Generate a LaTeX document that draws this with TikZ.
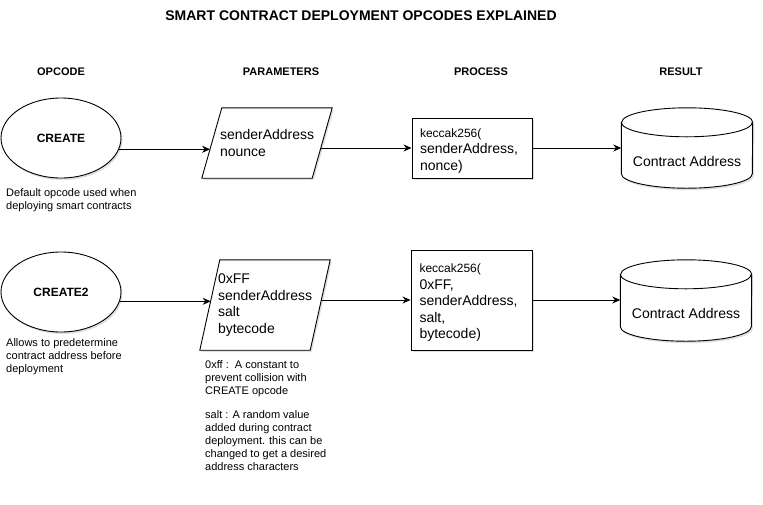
\documentclass[tikz,border=0pt]{standalone}
\usepackage{fontspec}
\setmainfont{Liberation Sans}
\usetikzlibrary{shapes.geometric,arrows.meta,shadows}
\newcommand{\txtsmall}{\fontsize{11}{13}\selectfont}
\newcommand{\txtmid}{\fontsize{12}{14}\selectfont}
\newcommand{\txtbig}{\fontsize{14}{16.5}\selectfont}
\begin{document}
\begin{tikzpicture}[x=1pt, y=-1pt,
  softshadow/.style = {drop shadow={shadow xshift=1.5pt, shadow yshift=-2pt, opacity=0.25}},
  opcode/.style = {ellipse, draw, fill=white, softshadow, line width=0.9pt,
    minimum width=120pt, minimum height=80pt, inner sep=0pt, font=\txtmid\bfseries},
  params/.style = {rectangle, inner sep=0pt, minimum width=130pt},
  paramtext/.style = {inner sep=0pt, text width=94pt, align=left, font=\txtbig},
  process/.style = {rectangle, draw, fill=white, softshadow, line width=0.9pt,
    inner sep=0pt, text width=104pt, align=left, font=\txtbig,
    execute at begin node={\rule{0pt}{14.5pt}}},
  result/.style = {rectangle, inner sep=0pt, minimum width=131pt, minimum height=80pt},
  head/.style = {font=\txtsmall\bfseries},
  note/.style = {anchor=north west, inner sep=0pt, align=left, font=\txtsmall},
  flow/.style = {line width=0.9pt, -{Stealth[length=8pt, width=7pt]}}
  ]
  \fill[white] (0,0) rectangle (763,504);
  \node[font=\fontsize{14}{16}\selectfont\bfseries] (title) at (361,16)
    {SMART CONTRACT DEPLOYMENT OPCODES EXPLAINED};

  \node[head] (h opcode) at (61,72) {OPCODE};
  \node[head] (h params) at (281,72) {PARAMETERS};
  \node[head] (h process) at (481,72) {PROCESS};
  \node[head] (h result) at (681,72) {RESULT};

  \node[opcode] (create) at (61,138) {CREATE};
  \node[params, minimum height=70pt] (params1) at (267,143) {};
  \node[process, minimum width=120pt, minimum height=60pt] (hash1) at (472,148)
    {{\txtmid keccak256(}\\senderAddress,\\nonce)};
  \node[result] (result1) at (687,148) {};

  \node[opcode] (create2) at (61,292) {CREATE2};
  \node[params, minimum height=90pt] (params2) at (265,305) {};
  \node[process, minimum width=121pt, minimum height=100pt] (hash2) at (471.5,300)
    {{\txtmid keccak256(}\\0xFF,\\senderAddress,\\salt,\\bytecode)};
  \node[result, minimum height=81pt] (result2) at (686,300.5) {};

  \foreach \p in {params1, params2} {
    \draw[fill=white, softshadow, line width=0.9pt]
      ([xshift=20pt]\p.north west) -- (\p.north east)
      -- ([xshift=-20pt]\p.south east) -- (\p.south west) -- cycle;
  }
  \node[paramtext] (params1 text) at (params1) {senderAddress\\nounce};
  \node[paramtext] (params2 text) at (params2) {0xFF\\senderAddress\\salt\\bytecode};

  \foreach \db in {result1, result2} {
    \draw[fill=white, softshadow, line width=0.9pt]
      ([yshift=-14.5pt]\db.north west) -- ([yshift=14.5pt]\db.south west)
      arc[start angle=180, end angle=360, x radius=65.5pt, y radius=14.5pt]
      -- ([yshift=-14.5pt]\db.north east)
      arc[start angle=0, end angle=180, x radius=65.5pt, y radius=14.5pt] -- cycle;
    \draw[line width=0.9pt] ([yshift=-14.5pt]\db.north west)
      arc[start angle=180, end angle=360, x radius=65.5pt, y radius=14.5pt];
    \node[font=\txtbig] (\db text) at ([yshift=-13pt]\db.center) {Contract Address};
  }

  \draw[flow] (create.-11) -- ([xshift=8.3pt]params1.west |- create.-11);
  \draw[flow] ([xshift=-11.7pt]params1.east |- hash1.west) -- (hash1.west);
  \draw[flow] (hash1.east) -- (result1.west);
  \draw[flow] (create2.-9) -- ([xshift=10.9pt]params2.west |- create2.-9);
  \draw[flow] ([xshift=-9.1pt]params2.east |- hash2.west) -- (hash2.west);
  \draw[flow] (hash2.east) -- (hash2.east -| result2.west);

  \node[note] (create note) at (6,188)
    {Default opcode used when\\deploying smart contracts};
  \node[note] (create2 note) at (6,338)
    {Allows to predetermine\\contract address before\\deployment};
  \node[note] (params2 note) at (205,360)
    {0xff :\ \ A constant to\\prevent collision with\\CREATE opcode\\[11pt]salt : A random value\\added during contract\\deployment. this can be\\changed to get a desired\\address characters};
\end{tikzpicture}
\end{document}
